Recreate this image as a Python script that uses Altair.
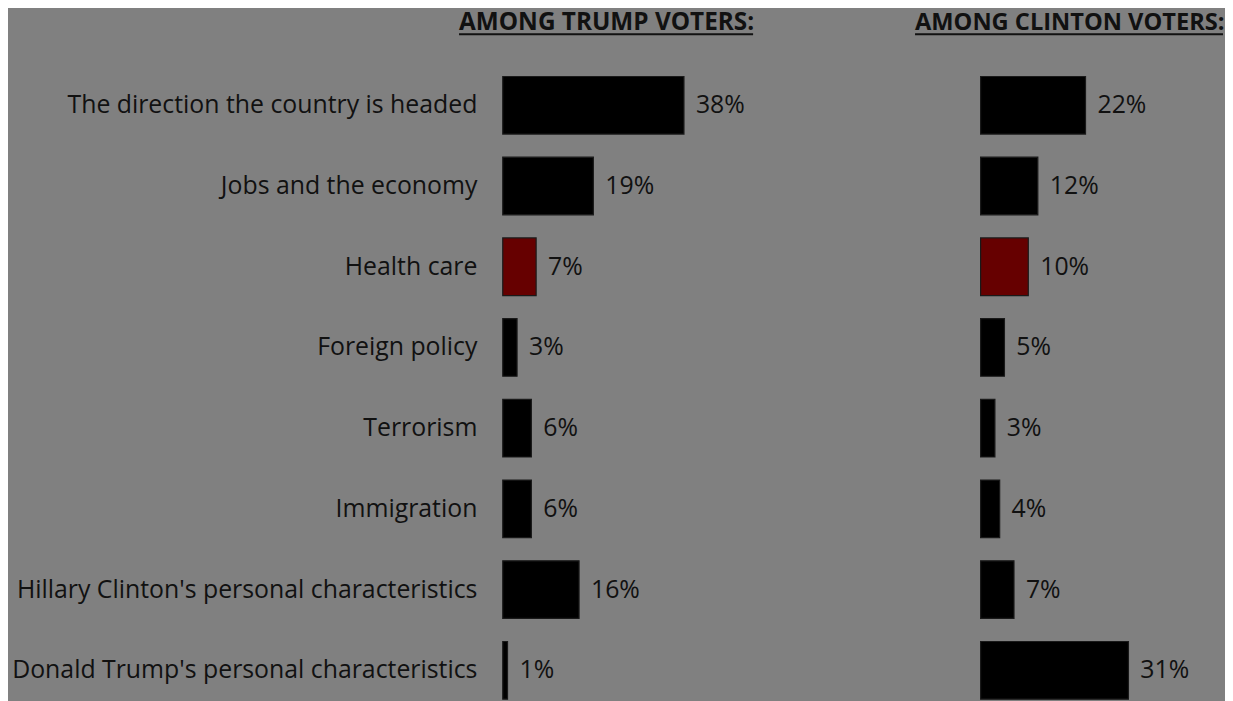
import altair as alt
import pandas as pd

categories = [
    "The direction the country is headed",
    "Jobs and the economy",
    "Health care",
    "Foreign policy",
    "Terrorism",
    "Immigration",
    "Hillary Clinton's personal characteristics",
    "Donald Trump's personal characteristics",
]
trump_values = [38, 19, 7, 3, 6, 6, 16, 1]
clinton_values = [22, 12, 10, 5, 3, 4, 7, 31]
highlight_category = "Health care"
titles = ["AMONG TRUMP VOTERS:", "AMONG CLINTON VOTERS:"]

FONT = "Open Sans"
TXT = "#111111"
PX_PER_PCT = 4.8
ROW_RANGE = [0, 650]


def make_df(values):
    return pd.DataFrame({
        "category": categories,
        "value": values,
        "label": [f"{v}%" for v in values],
        "hl": ["yes" if c == highlight_category else "no" for c in categories],
    })


def panel(values, width, title, title_dx, title_w, title_size, show_axis):
    df = make_df(values)
    yaxis = alt.Axis(
        title=None, ticks=False, domain=False, labelFont=FONT, labelFontSize=25,
        labelColor=TXT, labelPadding=26, labelLimit=700, minExtent=487, maxExtent=487,
    ) if show_axis else None
    y = alt.Y(
        "category:N", sort=categories, axis=yaxis,
        scale=alt.Scale(range=ROW_RANGE, paddingInner=0.286, paddingOuter=0.143),
    )
    x = alt.X("value:Q", scale=alt.Scale(domain=[0, width / PX_PER_PCT], nice=False), axis=None)
    bars = alt.Chart(df).mark_bar(stroke="#1a1a1a", strokeWidth=1.2).encode(
        y=y, x=x,
        color=alt.Color("hl:N", scale=alt.Scale(domain=["no", "yes"], range=["#000000", "#660000"]), legend=None),
    )
    text = alt.Chart(df).mark_text(
        align="left", baseline="middle", dx=12, font=FONT, fontSize=25, color=TXT
    ).encode(y=y, x=x, text="label:N")
    tdf = pd.DataFrame({"t": [title]})
    heading = alt.Chart(tdf).mark_text(
        align="left", baseline="alphabetic", font=FONT, fontSize=title_size,
        fontWeight="bold", color=TXT,
    ).encode(x=alt.value(title_dx), y=alt.value(-35), text="t:N")
    underline = alt.Chart(tdf).mark_rule(color=TXT, strokeWidth=2).encode(
        x=alt.value(title_dx), x2=alt.value(title_dx + title_w), y=alt.value(-31)
    )
    return alt.layer(bars, text, heading, underline).properties(width=width, height=620)


left = panel(trump_values, 420, titles[0], -44, 296, 24.5, True)
right = panel(clinton_values, 200, titles[1], -66, 310, 23.8, False)

chart = alt.hconcat(left, right, spacing=61, bounds="flush").properties(
    background="#808080",
    padding={"left": 3, "top": 0, "right": 0, "bottom": 0},
).configure_view(stroke=None)

chart.save("out.html", embed_options={"renderer": "svg", "actions": False})
